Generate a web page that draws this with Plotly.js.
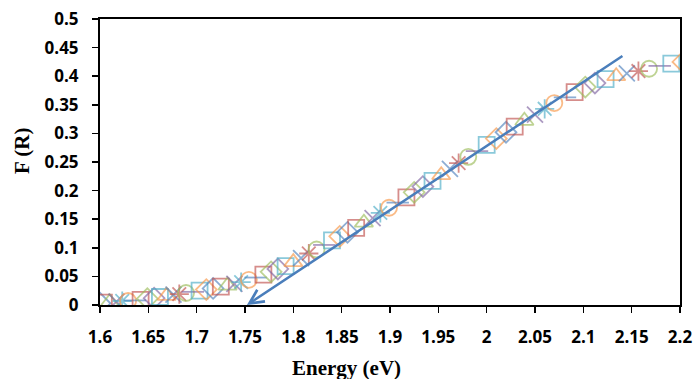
<!DOCTYPE html>
<html><head><meta charset="utf-8">
<script src="https://cdn.plot.ly/plotly-3.0.1.min.js"></script>
<style>html,body{margin:0;padding:0;background:#fff}#c{width:693px;height:379px}</style>
</head><body><div id="c"></div>
<script>
const energy = [1.600,1.604,1.610,1.617,1.623,1.629,1.636,1.642,1.649,1.656,1.662,1.669,1.676,1.682,1.689,1.696,1.703,1.710,1.717,1.725,1.732,1.739,1.746,1.754,1.761,1.769,1.777,1.784,1.792,1.800,1.808,1.816,1.824,1.832,1.840,1.848,1.856,1.865,1.873,1.882,1.890,1.899,1.908,1.917,1.925,1.934,1.944,1.953,1.962,1.971,1.981,1.990,2.000,2.010,2.020,2.029,2.039,2.050,2.060,2.070,2.081,2.091,2.102,2.112,2.123,2.134,2.145,2.157,2.168,2.179,2.191,2.203];
const fR = [0.003,0.004,0.005,0.006,0.007,0.007,0.008,0.009,0.011,0.012,0.014,0.016,0.018,0.019,0.021,0.023,0.025,0.027,0.029,0.032,0.034,0.037,0.040,0.044,0.048,0.053,0.058,0.063,0.068,0.075,0.082,0.090,0.097,0.105,0.113,0.120,0.127,0.135,0.144,0.152,0.161,0.170,0.179,0.188,0.197,0.207,0.217,0.227,0.238,0.248,0.259,0.269,0.280,0.291,0.302,0.312,0.322,0.333,0.343,0.353,0.363,0.372,0.381,0.388,0.395,0.400,0.405,0.409,0.413,0.418,0.422,0.425];
const xTicks = [1.6,1.65,1.7,1.75,1.8,1.85,1.9,1.95,2,2.05,2.1,2.15,2.2];
const yTicks = [0,0.05,0.1,0.15,0.2,0.25,0.3,0.35,0.4,0.45,0.5];
const fitStart = [2.142, 0.437];
const fitEnd = [1.752, 0.0];

const symCycle = ['diamond-open','square-open','triangle-up-open','x-thin-open','asterisk-open','circle-open','line-ew-open','square-open','diamond-open'];
const colCycle = ['#4F81BD','#C0504D','#9BBB59','#8064A2','#4BACC6','#F79646'];
const syms = energy.map((_, i) => symCycle[i % symCycle.length]);
const cols = energy.map((_, i) => colCycle[i % colCycle.length]);

const trace = {
  x: energy, y: fR, type: 'scatter', mode: 'markers',
  marker: {symbol: syms, size: 16, color: cols, opacity: 0.65, line: {color: cols, width: 1.8}},
  showlegend: false, hoverinfo: 'skip'
};

const tickFont = {family: 'Open Sans, Liberation Sans, sans-serif', size: 17, color: '#000', weight: 'bold'};
const titleFont = {family: 'Liberation Serif, Times New Roman, serif', size: 21, color: '#000'};
const layout = {
  width: 693, height: 379,
  margin: {l: 100, r: 13, t: 19, b: 74},
  paper_bgcolor: '#fff', plot_bgcolor: '#fff',
  showlegend: false,
  xaxis: {range: [1.6, 2.2], tickvals: xTicks, ticktext: xTicks.map(String), showgrid: false, zeroline: false,
          showline: true, linecolor: '#000', linewidth: 2, mirror: true,
          ticks: 'outside', ticklen: 6, tickwidth: 1.5, tickcolor: '#000',
          tickfont: tickFont, ticklabelstandoff: 10},
  yaxis: {range: [0, 0.5], tickvals: yTicks, ticktext: yTicks.map(String), showgrid: false, zeroline: false,
          showline: true, linecolor: '#000', linewidth: 2, mirror: true,
          ticks: 'outside', ticklen: 6, tickwidth: 1.5, tickcolor: '#000',
          tickfont: tickFont, ticklabelstandoff: 10},
  annotations: [
    {x: fitEnd[0], y: fitEnd[1], ax: fitStart[0], ay: fitStart[1], xref: 'x', yref: 'y', axref: 'x', ayref: 'y',
     showarrow: true, arrowhead: 5, arrowsize: 1.1, arrowwidth: 2.5, arrowcolor: '#4A7EBB', text: ''},
    {text: '<b>Energy (eV)</b>', xref: 'paper', yref: 'paper', x: (346-100)/580, y: -(368-305)/286, xanchor: 'center', yanchor: 'middle',
     showarrow: false, font: titleFont},
    {text: '<b>F (R)</b>', xref: 'paper', yref: 'paper', x: -(100-22)/580, y: (305-151)/286, xanchor: 'center', yanchor: 'middle',
     textangle: -90, showarrow: false, font: titleFont}
  ]
};
Plotly.newPlot('c', [trace], layout, {staticPlot: true, displayModeBar: false});
</script></body></html>
